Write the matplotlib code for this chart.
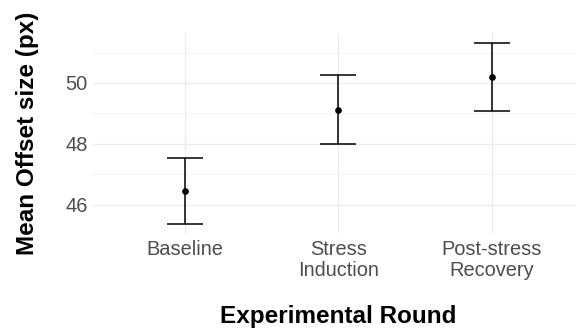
import matplotlib
matplotlib.use("Agg")
import matplotlib.pyplot as plt
from matplotlib.ticker import FixedLocator

plt.rcParams["font.family"] = ["Liberation Sans", "DejaVu Sans"]

# values
rounds = ["Baseline", "Stress\nInduction", "Post-stress\nRecovery"]
means = [46.45, 49.12, 50.19]
upper = [47.55, 50.27, 51.30]
lower = [45.37, 47.99, 49.08]

x = list(range(1, len(rounds) + 1))
err_lo = [m - l for m, l in zip(means, lower)]
err_hi = [u - m for m, u in zip(means, upper)]

fig = plt.figure(figsize=(5.76, 3.30), dpi=100)
ax = fig.add_axes([93.3 / 576, 1 - 233 / 330, 1 - 93.3 / 576, 200 / 330])

ax.errorbar(x, means, yerr=[err_lo, err_hi], fmt="o", color="black",
            ms=3.8, elinewidth=1.1, capsize=13, capthick=1.1, zorder=3)

ax.set_xlim(0.4, 3.55)
ax.set_ylim(45.08, 51.64)
ax.set_xticks(x)
ax.set_xticklabels(rounds, linespacing=1.12)
ax.set_yticks([46, 48, 50])
ax.yaxis.set_minor_locator(FixedLocator([45, 47, 49, 51]))

ax.grid(True, which="major", color="#EBEBEB", lw=0.9)
ax.grid(True, which="minor", axis="y", color="#F2F2F2", lw=0.6)
ax.set_axisbelow(True)
for s in ax.spines.values():
    s.set_visible(False)
ax.tick_params(which="both", length=0, labelsize=14.4, colors="#4D4D4D", pad=4)
ax.tick_params(axis="x", pad=5)

fig.text(338 / 576, 1 - 323 / 330, "Experimental Round", fontsize=17.5,
         fontweight="bold", ha="center", va="baseline")
ax.set_ylabel("Mean Offset size (px)", fontsize=17.5, fontweight="bold", labelpad=19)

fig.savefig("out.png", dpi=100)
